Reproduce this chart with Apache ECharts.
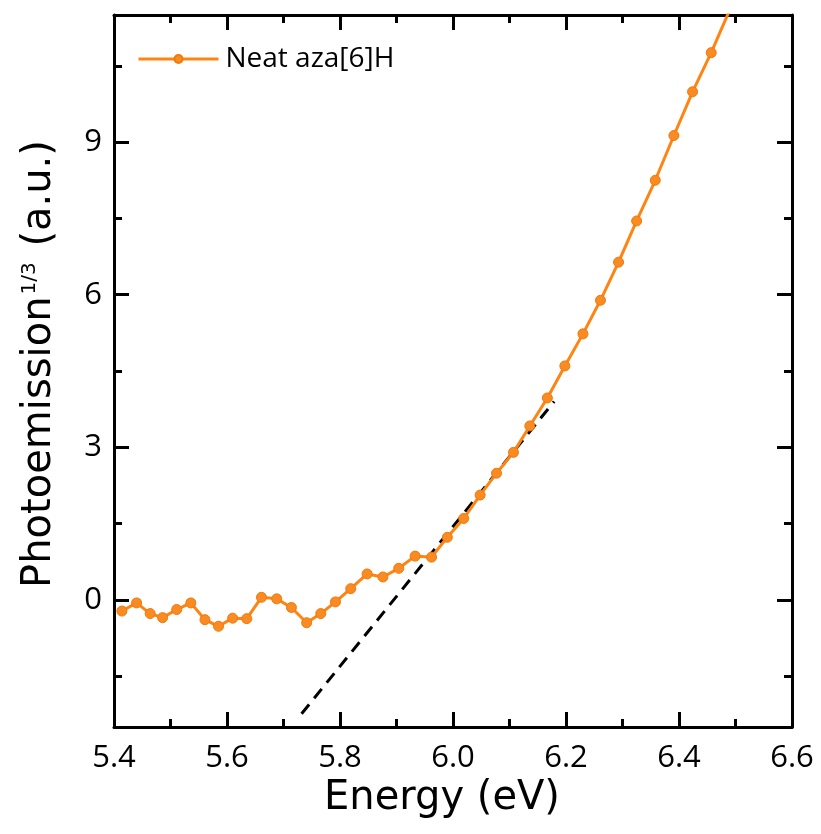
<!DOCTYPE html>
<html>
<head>
<meta charset="utf-8">
<script src="https://cdn.jsdelivr.net/npm/echarts@6/dist/echarts.min.js"></script>
<style>
  html, body { margin: 0; padding: 0; background: #fff; }
  #chart { width: 821px; height: 834px; }
</style>
</head>
<body>
<div id="chart"></div>
<script>
// photoemission yield
const energy = [5.414, 5.440, 5.464, 5.486, 5.511, 5.536, 5.561, 5.585, 5.610, 5.635,
  5.661, 5.688, 5.714, 5.741, 5.766, 5.792, 5.819, 5.848, 5.876, 5.904,
  5.933, 5.962, 5.990, 6.019, 6.048, 6.077, 6.107, 6.136, 6.167, 6.198,
  6.230, 6.261, 6.293, 6.325, 6.358, 6.391, 6.424, 6.457, 6.489]
const photo = [-0.22, -0.06, -0.27, -0.35, -0.19, -0.06, -0.39, -0.52, -0.36, -0.37,
  0.05, 0.02, -0.15, -0.45, -0.27, -0.04, 0.22, 0.51, 0.45, 0.62,
  0.86, 0.84, 1.23, 1.60, 2.06, 2.49, 2.90, 3.42, 3.97, 4.60,
  5.23, 5.89, 6.64, 7.45, 8.25, 9.13, 9.99, 10.76, 11.58]
// linear fit (dashed)
const fitEnergy = [5.732, 6.179]
const fitPhoto = [-2.24, 3.90]

const xMajor = [5.4, 5.6, 5.8, 6.0, 6.2, 6.4, 6.6]
const xMinor = [5.5, 5.7, 5.9, 6.1, 6.3, 6.5]
const yMajor = [0, 3, 6, 9]
const yMinor = [-1.5, 1.5, 4.5, 7.5, 10.5]

const seriesName = 'Neat aza[6]H'
const orange = '#FF8412'
const tickFont = 'Open Sans'
const titleFont = 'DejaVu Sans'

function frameAxis (position, ticks, len, withLine) {
  return {
    type: 'value',
    position: position,
    min: position === 'left' || position === 'right' ? -2.5 : 5.4,
    max: position === 'left' || position === 'right' ? 11.5 : 6.6,
    axisLine: { show: withLine, onZero: false, lineStyle: { color: '#000', width: 3 } },
    axisTick: { show: true, inside: true, length: len, customValues: ticks, lineStyle: { color: '#000', width: 3 } },
    axisLabel: { show: false },
    splitLine: { show: false }
  }
}

let chart = echarts.init(document.getElementById('chart'))

let xBottom = frameAxis('bottom', xMajor, 15, true)
xBottom.axisLabel = {
  show: true,
  customValues: xMajor,
  margin: 16,
  formatter: v => v.toFixed(1),
  color: '#000',
  fontFamily: tickFont,
  fontSize: 31
}
xBottom.name = 'Energy (eV)'
xBottom.nameLocation = 'middle'
xBottom.nameGap = 52
xBottom.nameTextStyle = { color: '#000', fontFamily: titleFont, fontSize: 40, padding: [0, 22, 0, 0] }

let yLeft = frameAxis('left', yMajor, 15, true)
yLeft.axisLabel = {
  show: true,
  customValues: yMajor,
  margin: 12,
  color: '#000',
  fontFamily: tickFont,
  fontSize: 31
}
yLeft.name = '{t|Photoemission}{s|1/3}{t| (a.u.)}'
yLeft.nameLocation = 'middle'
yLeft.nameGap = 54
yLeft.nameRotate = 90
yLeft.nameTextStyle = {
  color: '#000',
  padding: [0, 0, 0, 14],
  rich: {
    t: { fontFamily: titleFont, fontSize: 40, color: '#000' },
    s: { fontFamily: titleFont, fontSize: 20, color: '#000', verticalAlign: 'top', padding: [0, 3, 0, 2] }
  }
}

let option = {
  animation: false,
  backgroundColor: '#fff',
  grid: { left: 114, right: 29, top: 15, bottom: 107, containLabel: false, outerBoundsMode: 'none' },
  legend: {
    data: [seriesName],
    left: 132,
    top: 40,
    itemWidth: 80,
    itemHeight: 10,
    itemGap: 0,
    lineStyle: { width: 3 },
    textStyle: { color: '#000', fontFamily: tickFont, fontSize: 28, padding: [0, 0, 0, 2] }
  },
  xAxis: [
    xBottom,
    frameAxis('bottom', xMinor, 8, false),
    frameAxis('top', xMajor, 15, true),
    frameAxis('top', xMinor, 8, false)
  ],
  yAxis: [
    yLeft,
    frameAxis('left', yMinor, 8, false),
    frameAxis('right', yMajor, 15, true),
    frameAxis('right', yMinor, 8, false)
  ],
  series: [
    {
      name: 'fit',
      type: 'line',
      data: fitEnergy.map((e, i) => [e, fitPhoto[i]]),
      symbol: 'none',
      lineStyle: { color: '#000', width: 3, type: [12, 8] },
      z: 1
    },
    {
      name: seriesName,
      type: 'line',
      data: energy.map((e, i) => [e, photo[i]]),
      symbol: 'circle',
      symbolSize: 10,
      clip: true,
      itemStyle: { color: '#F98B22', borderColor: '#F07A0A', borderWidth: 1 },
      lineStyle: { color: orange, width: 3 },
      z: 2
    }
  ]
}
chart.setOption(option)
</script>
</body>
</html>
